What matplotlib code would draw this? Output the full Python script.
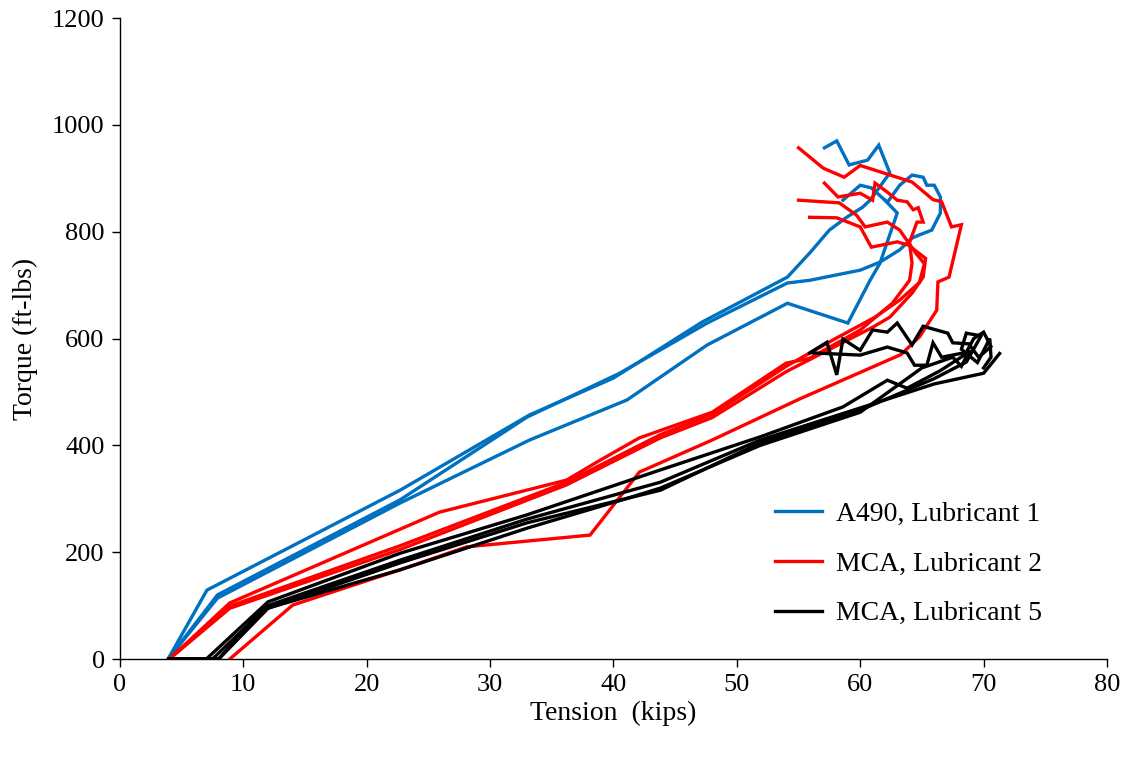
import matplotlib
matplotlib.use("Agg")
import matplotlib.pyplot as plt
from matplotlib.lines import Line2D

plt.rcParams['font.family'] = ['Liberation Serif', 'DejaVu Serif']

# Tension (kips) / torque (ft-lbs) records, one pair of lists per bolt test
a490_t1 = [3.9, 7.05, 22.7, 33.2, 40.0, 47.2, 54.1, 55.9, 57.5, 58.9, 60.2, 60.8, 62.4, 61.5, 60.6, 59.1, 58.1, 57.1]
a490_q1 = [0, 129, 316, 457, 526, 631, 715, 760, 803, 827, 846, 859, 910, 962, 934, 925, 970, 957]
a490_t2 = [3.9, 7.9, 22.7, 33.0, 40.5, 47.6, 54.1, 55.9, 60.0, 61.6, 63.2, 64.2, 64.8, 65.8, 66.5, 66.5, 66.0, 65.4, 65.1, 64.2, 63.2, 62.2, 60.9, 60.0, 58.6]
a490_q2 = [0, 120, 298, 453, 535, 629, 704, 709, 728, 743, 766, 788, 794, 803, 835, 865, 887, 887, 902, 906, 887, 855, 882, 887, 859]
a490_t3 = [3.9, 7.9, 22.7, 33.2, 41.1, 47.6, 54.1, 59.0, 60.8, 61.6, 63.0, 62.0]
a490_q3 = [0, 114, 292, 410, 485, 588, 666, 629, 709, 741, 835, 859]

mca2_t1 = [4.0, 8.9, 25.9, 36.2, 38.9, 42.1, 48.0, 54.0, 55.9, 60.0, 62.6, 64.0, 64.2, 64.0, 64.6, 65.1, 64.7, 64.3, 63.8, 63.0, 62.2, 61.2, 61.0, 60.0, 58.2, 57.1]
mca2_q1 = [0, 105, 275, 335, 372, 414, 462, 554, 563, 616, 666, 709, 741, 780, 818, 818, 845, 841, 856, 859, 874, 891, 859, 872, 865, 891]
mca2_t2 = [4.0, 8.9, 22.7, 36.2, 43.8, 48.0, 54.0, 61.0, 62.4, 64.2, 65.1, 65.3, 63.9, 63.0, 60.9, 60.0, 58.1, 55.9]
mca2_q2 = [0, 95, 205, 326, 414, 452, 538, 621, 640, 685, 715, 750, 775, 781, 771, 809, 826, 827]
mca2_t3 = [4.0, 8.9, 22.7, 36.2, 43.8, 48.0, 54.0, 58.0, 61.2, 63.2, 64.8, 65.2, 64.5, 63.2, 62.2, 60.4, 59.7, 58.3, 55.0]
mca2_q3 = [0, 99, 212, 331, 420, 458, 548, 600, 640, 672, 705, 740, 760, 803, 818, 809, 831, 854, 859]
mca2_t4 = [8.9, 14.0, 22.7, 28.1, 38.1, 42.1, 48.0, 55.1, 63.3, 64.8, 66.2, 66.3, 67.2, 68.2, 67.4, 66.6, 65.9, 64.2, 60.0, 58.7, 57.0, 55.0]
mca2_q4 = [0, 101, 167, 210, 232, 350, 410, 487, 570, 603, 653, 706, 715, 813, 809, 856, 860, 893, 924, 902, 919, 957]

mca5_t1 = [4.0, 7.0, 12.0, 22.7, 33.0, 43.8, 51.9, 58.6, 62.2, 63.8, 66.5, 68.5, 69.2, 70.0, 70.6, 69.6, 68.8, 67.5, 67.1, 65.1, 64.2, 63.0, 62.2, 61.0, 60.0, 58.6, 58.1, 57.3, 55.9]
mca5_q1 = [0, 0, 107, 198, 270, 354, 416, 472, 522, 507, 540, 570, 600, 612, 585, 565, 590, 592, 610, 623, 588, 629, 612, 616, 578, 599, 532, 593, 573]
mca5_t2 = [4.0, 7.5, 12.0, 22.7, 33.0, 43.8, 51.9, 60.0, 66.0, 70.0, 71.3]
mca5_q2 = [0, 0, 100, 185, 262, 331, 410, 470, 515, 535, 572]
mca5_t3 = [4.0, 8.0, 12.0, 22.7, 33.0, 43.8, 51.9, 60.0, 66.0, 68.6, 69.8, 68.6, 68.2, 69.5, 70.5, 70.6, 70.0]
mca5_q3 = [0, 0, 95, 180, 255, 316, 405, 466, 525, 556, 605, 610, 580, 555, 600, 565, 545]
mca5_t4 = [4.0, 8.0, 11.5, 22.7, 33.0, 41.0, 43.8, 51.9, 60.0, 65.0, 67.5, 68.2, 68.8, 66.6, 65.9, 65.4, 64.4, 63.8, 62.2, 60.0, 56.2]
mca5_q4 = [0, 0, 92, 167, 245, 300, 320, 400, 462, 545, 565, 548, 575, 565, 592, 550, 550, 573, 584, 569, 573]

series = [
    ("A490, Lubricant 1", "#0070C0",
     [(a490_t1, a490_q1), (a490_t2, a490_q2), (a490_t3, a490_q3)]),
    ("MCA, Lubricant 2", "#FF0000",
     [(mca2_t1, mca2_q1), (mca2_t2, mca2_q2), (mca2_t3, mca2_q3), (mca2_t4, mca2_q4)]),
    ("MCA, Lubricant 5", "#000000",
     [(mca5_t1, mca5_q1), (mca5_t2, mca5_q2), (mca5_t3, mca5_q3), (mca5_t4, mca5_q4)]),
]

fig = plt.figure(figsize=(11.35, 7.61), dpi=100)
ax = fig.add_axes([0.1057, 0.134, 0.8696, 0.8423])

handles = []
for z, (label, color, runs) in enumerate(series):
    for t, q in runs:
        ax.plot(t, q, color=color, lw=2.4, zorder=2 + z, solid_joinstyle='miter')
    handles.append(Line2D([], [], color=color, lw=2.4, label=label))

ax.set_xlim(0, 80)
ax.set_ylim(0, 1200)
ax.set_xticks(range(0, 81, 10))
ax.set_yticks(range(0, 1201, 200))

for side in ("top", "right"):
    ax.spines[side].set_visible(False)
for side in ("left", "bottom"):
    ax.spines[side].set_linewidth(1.0)

ax.tick_params(axis="both", direction="out", length=6, width=1.0, labelsize=19, pad=5)
ax.set_xlabel("Tension  (kips)", fontsize=20, labelpad=3)
ax.set_ylabel("Torque (ft-lbs)", fontsize=20, labelpad=10)

ax.legend(handles=handles, loc="lower left", bbox_to_anchor=(0.638, 0.012),
          frameon=False, fontsize=20, handlelength=1.7, handletextpad=0.5,
          labelspacing=0.88)

fig.savefig("out.png", dpi=100)
